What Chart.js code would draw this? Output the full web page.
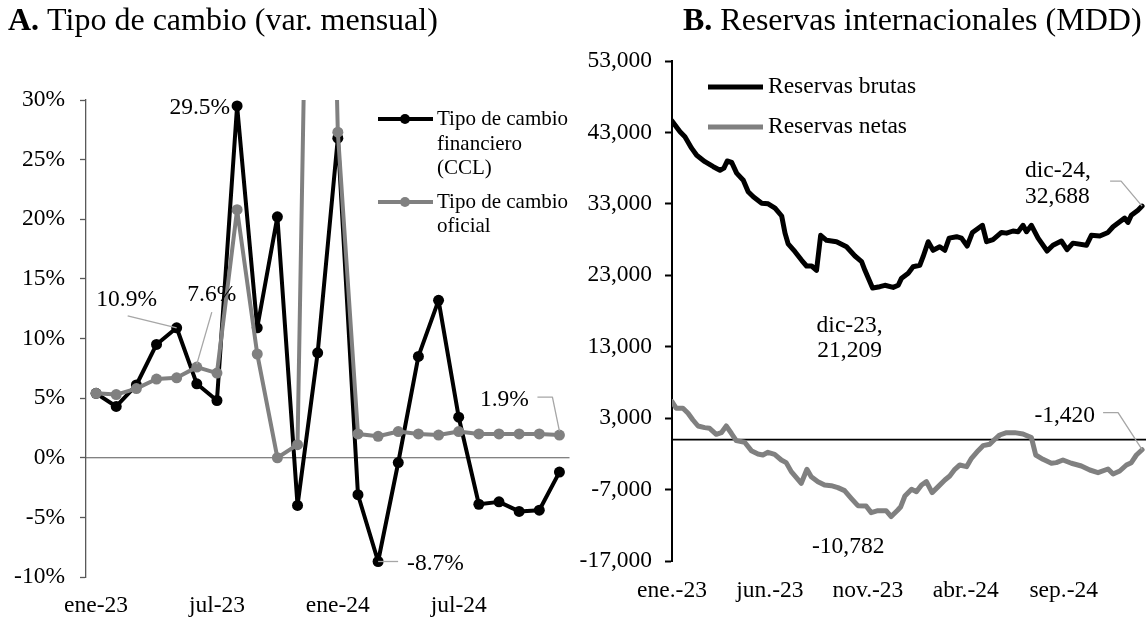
<!DOCTYPE html>
<html lang="es">
<head>
<meta charset="utf-8">
<title>Tipo de cambio y reservas</title>
<script src="https://cdn.jsdelivr.net/npm/chart.js@4.4.1/dist/chart.umd.min.js"></script>
<style>
  html,body{margin:0;padding:0;background:#fff;}
  #wrap{position:relative;width:1146px;height:618px;overflow:hidden;background:#fff;}
  canvas{position:absolute;top:0;}
  #cA{left:0;width:575px;height:618px;}
  #cB{left:575px;width:571px;height:618px;}
</style>
</head>
<body>
<div id="wrap">
  <canvas id="cA" width="575" height="618"></canvas>
  <canvas id="cB" width="571" height="618"></canvas>
</div>
<script>
// ---- datos panel A (var. mensual, %) ----
const meses = ['ene-23','feb-23','mar-23','abr-23','may-23','jun-23','jul-23','ago-23','sep-23','oct-23','nov-23','dic-23',
               'ene-24','feb-24','mar-24','abr-24','may-24','jun-24','jul-24','ago-24','sep-24','oct-24','nov-24','dic-24'];
const ccl     = [5.4, 4.3, 6.1, 9.5, 10.9, 6.2, 4.8, 29.5, 10.9, 20.2, -4.0, 8.8, 26.8, -3.1, -8.7, -0.4, 8.5, 13.2, 3.4, -3.9, -3.7, -4.5, -4.4, -1.2];
const oficial = [5.4, 5.3, 5.8, 6.6, 6.7, 7.6, 7.1, 20.8, 8.7, 0.0, 1.1, 97.0, 27.3, 2.0, 1.8, 2.2, 2.0, 1.9, 2.2, 2.0, 2.0, 2.0, 2.0, 1.9];
const ticksA  = [-10, -5, 0, 5, 10, 15, 20, 25, 30];

// ---- datos panel B (MDD); posicion en meses desde ene-23 ----
const brutasMes = [0, 0.41, 0.66, 1.0, 1.26, 1.68, 2.11, 2.45, 2.65, 2.82, 3.05, 3.30, 3.64, 3.89, 4.15, 4.58, 4.91, 5.26, 5.60, 5.77,
  5.93, 6.28, 6.62, 6.87, 7.13, 7.38, 7.59, 7.89, 8.40, 8.91, 9.34, 9.68, 9.85, 10.24, 10.61, 10.87, 11.29, 11.55, 11.72, 12.06,
  12.31, 12.65, 12.82, 13.08, 13.33, 13.67, 13.93, 14.15, 14.53, 14.78, 15.07, 15.34, 15.85, 16.06, 16.39, 16.82, 17.08, 17.41, 17.67, 17.92,
  18.10, 18.35, 18.69, 19.15, 19.45, 19.88, 20.17, 20.47, 21.16, 21.41, 21.84, 22.26, 22.52, 22.86, 23.11, 23.28, 23.45, 23.79, 24.0];
const brutas = [44600, 43100, 42400, 40800, 39800, 38900, 38200, 37700, 38000, 39000, 38800, 37300, 36300, 34700, 34000, 33100, 33000, 32400, 31300, 28900,
  27400, 26300, 25100, 24300, 24300, 23700, 28600, 27900, 27700, 27000, 25700, 24900, 23700, 21209, 21400, 21600, 21300, 21600, 22600, 23300,
  24200, 24400, 25600, 27700, 26500, 27000, 26500, 28200, 28400, 28200, 27100, 29000, 30000, 27700, 28000, 29000, 28900, 29200, 29100, 30000,
  29100, 30000, 28200, 26400, 27200, 27800, 26600, 27500, 27200, 28600, 28500, 29000, 29800, 30500, 31000, 30400, 31400, 32100, 32688];
const netasMes = [0, 0.22, 0.56, 0.82, 1.07, 1.33, 1.67, 1.92, 2.26, 2.52, 2.77, 3.03, 3.28, 3.71, 4.05, 4.39, 4.64, 4.90, 5.24, 5.58,
  5.83, 6.09, 6.34, 6.60, 6.89, 7.11, 7.45, 7.79, 8.13, 8.47, 8.81, 9.15, 9.49, 9.91, 10.17, 10.51, 10.93, 11.19, 11.53, 11.68,
  11.89, 12.23, 12.48, 12.74, 12.99, 13.28, 13.59, 13.93, 14.18, 14.44, 14.69, 15.04, 15.29, 15.63, 15.88, 16.22, 16.48, 16.73, 17.08, 17.50,
  17.92, 18.35, 18.57, 18.94, 19.37, 19.62, 19.96, 20.39, 20.90, 21.33, 21.75, 22.26, 22.52, 22.86, 23.20, 23.45, 23.71, 24.0];
const netas = [5300, 4380, 4380, 3680, 2740, 1900, 1670, 1580, 740, 970, 1900, 880, -150, -380, -1550, -2020, -2160, -1780, -2060, -2860,
  -3230, -4490, -5280, -6120, -4160, -5190, -5890, -6360, -6450, -6730, -7150, -8220, -9250, -9300, -10230, -9950, -9950, -10782, -9860, -9400,
  -7900, -6960, -7290, -6360, -5890, -7430, -6590, -5660, -5100, -4160, -3560, -3790, -2620, -1550, -850, -660, 40, 640, 970, 970,
  780, 270, -2160, -2760, -3320, -3230, -2860, -3320, -3700, -4260, -4630, -4120, -4820, -4400, -3560, -3230, -2160, -1420];
const ticksB    = [-17000, -7000, 3000, 13000, 23000, 33000, 43000, 53000];
const ticksBMes = [0, 5, 10, 15, 20];
const etiquetasB = ['ene.-23', 'jun.-23', 'nov.-23', 'abr.-24', 'sep.-24'];

const SERIF = "'Liberation Serif', 'Times New Roman', serif";
const NEGRO = '#000000', GRIS = '#808080', GUIA = '#a6a6a6';
Chart.defaults.font.family = SERIF;
Chart.defaults.font.size = 23.5;
Chart.defaults.color = NEGRO;

// helpers de dibujo
function linea(ctx, pts, color, w){
  ctx.save(); ctx.strokeStyle = color; ctx.lineWidth = w; ctx.lineJoin = 'round';
  ctx.beginPath(); pts.forEach((p,i)=> i ? ctx.lineTo(p[0],p[1]) : ctx.moveTo(p[0],p[1])); ctx.stroke(); ctx.restore();
}
function texto(ctx, s, x, y, align='left', size=23.5){
  ctx.save(); ctx.font = `${size}px ${SERIF}`; ctx.fillStyle = NEGRO; ctx.textAlign = align; ctx.textBaseline = 'middle';
  ctx.fillText(s, x, y); ctx.restore();
}
function titulo(ctx, x, y, letra, resto){
  ctx.save(); ctx.fillStyle = NEGRO; ctx.textBaseline = 'alphabetic'; ctx.textAlign = 'left';
  ctx.font = `bold 32px ${SERIF}`; ctx.fillText(letra, x, y);
  const w = ctx.measureText(letra).width;
  ctx.font = `32px ${SERIF}`; ctx.fillText(resto, x + w, y); ctx.restore();
}
function punto(ctx, x, y, r, color){
  ctx.save(); ctx.fillStyle = color; ctx.beginPath(); ctx.arc(x, y, r, 0, Math.PI*2); ctx.fill(); ctx.restore();
}
const pct = v => v.toFixed(1) + '%';
const miles = v => v.toLocaleString('en-US');

// ---------------- Panel A ----------------
const extrasA = {
  id: 'extrasA',
  beforeDatasetsDraw(chart){
    const {ctx, chartArea:a, scales:{y}} = chart;
    const y0 = y.getPixelForValue(0);
    linea(ctx, [[a.left, y0], [a.right, y0]], '#595959', 1.2);
  },
  afterDraw(chart){
    const ctx = chart.ctx;
    titulo(ctx, 8, 30, 'A.', ' Tipo de cambio (var. mensual)');
    const p = (ds, i) => chart.getDatasetMeta(ds).data[i];
    let q = p(0, 7); texto(ctx, pct(ccl[7]), q.x - 7, q.y + 2, 'right');
    q = p(0, 4); linea(ctx, [[q.x - 49, q.y - 12], [q.x, q.y]], GUIA, 1.3); texto(ctx, pct(ccl[4]), q.x - 50, q.y - 28, 'center');
    q = p(1, 5); linea(ctx, [[q.x + 15, q.y - 55], [q.x, q.y - 3]], GUIA, 1.3); texto(ctx, pct(oficial[5]), q.x + 15, q.y - 72, 'center');
    q = p(0, 14); linea(ctx, [[q.x, q.y], [q.x + 20, q.y]], GUIA, 1.3); texto(ctx, pct(ccl[14]), q.x + 29, q.y + 2, 'left');
    q = p(1, 23); linea(ctx, [[q.x - 22, q.y - 38], [q.x - 7, q.y - 38], [q.x, q.y - 4]], GUIA, 1.3);
    texto(ctx, pct(oficial[23]), q.x - 55, q.y - 35, 'center');
    // leyenda
    linea(ctx, [[378, 119], [433, 119]], NEGRO, 4); punto(ctx, 405, 119, 5, NEGRO);
    texto(ctx, 'Tipo de cambio', 437, 119, 'left', 21);
    texto(ctx, 'financiero', 437, 144, 'left', 21);
    texto(ctx, '(CCL)', 437, 168, 'left', 21);
    linea(ctx, [[378, 202], [433, 202]], GRIS, 4); punto(ctx, 405, 202, 5, GRIS);
    texto(ctx, 'Tipo de cambio', 437, 202, 'left', 21);
    texto(ctx, 'oficial', 437, 226, 'left', 21);
  }
};

new Chart(document.getElementById('cA'), {
  type: 'line',
  data: {
    labels: meses,
    datasets: [
      {label: 'Tipo de cambio financiero (CCL)', data: ccl, borderColor: NEGRO, backgroundColor: NEGRO, borderWidth: 4,
       borderJoinStyle: 'round', pointRadius: 5.5, pointHoverRadius: 5.5, pointBorderWidth: 0, order: 2,
       clip: {left: 10, right: 10, top: 0, bottom: 10}},
      {label: 'Tipo de cambio oficial', data: oficial, borderColor: GRIS, backgroundColor: GRIS, borderWidth: 4,
       borderJoinStyle: 'round', pointRadius: 5.5, pointHoverRadius: 5.5, pointBorderWidth: 0, order: 1,
       clip: {left: 10, right: 10, top: 0, bottom: 10}}
    ]
  },
  options: {
    responsive: false, animation: false, events: [],
    layout: {padding: {left: 0, right: 2, top: 100, bottom: 0}},
    plugins: {legend: {display: false}, tooltip: {enabled: false}},
    scales: {
      x: {
        type: 'category', offset: true,
        grid: {display: false, drawTicks: false}, border: {display: false},
        ticks: {autoSkip: false, maxRotation: 0, padding: 15, callback: (v, i) => i % 6 === 0 ? meses[i] : ''},
        afterFit: s => { s.height = 41; }
      },
      y: {
        min: -10, max: 30,
        afterBuildTicks: s => { s.ticks = ticksA.map(v => ({value: v})); },
        ticks: {padding: 15, callback: v => v + '%'},
        grid: {drawOnChartArea: false, drawTicks: true, tickLength: 6, tickColor: '#595959', tickWidth: 1.3},
        border: {display: true, color: '#595959', width: 1.3},
        afterFit: s => { s.width = 86; }
      }
    }
  },
  plugins: [extrasA]
});

// ---------------- Panel B ----------------
const iMinB = brutas.indexOf(Math.min(...brutas));
const iMinN = netas.indexOf(Math.min(...netas));
const extrasB = {
  id: 'extrasB',
  beforeDatasetsDraw(chart){
    const {ctx, chartArea:a, scales:{y}} = chart;
    const y0 = y.getPixelForValue(0);
    linea(ctx, [[a.left, y0], [a.right, y0]], NEGRO, 1.8);
  },
  afterDraw(chart){
    const ctx = chart.ctx;
    titulo(ctx, 108, 30, 'B.', ' Reservas internacionales (MDD)');
    const p = (ds, i) => chart.getDatasetMeta(ds).data[i];
    let q = p(0, iMinB);
    texto(ctx, 'dic-23,', q.x - 23, q.y + 38, 'center'); texto(ctx, miles(brutas[iMinB]), q.x - 23, q.y + 63, 'center');
    const nb = brutas.length - 1; q = p(0, nb);
    linea(ctx, [[q.x - 32, q.y - 25], [q.x - 21, q.y - 25], [q.x, q.y]], GUIA, 1.3);
    texto(ctx, 'dic-24,', q.x - 117, q.y - 35, 'left'); texto(ctx, miles(brutas[nb]), q.x - 117, q.y - 9, 'left');
    q = p(1, iMinN);
    texto(ctx, miles(netas[iMinN]), q.x - 43, q.y + 30, 'center');
    const nn = netas.length - 1; q = p(1, nn);
    linea(ctx, [[q.x - 39, q.y - 37], [q.x - 24, q.y - 37], [q.x, q.y]], GUIA, 1.3);
    texto(ctx, miles(netas[nn]), q.x - 47, q.y - 34, 'right');
    // leyenda
    linea(ctx, [[133, 87], [188, 87]], NEGRO, 5);
    texto(ctx, 'Reservas brutas', 193, 87, 'left');
    linea(ctx, [[133, 127], [188, 127]], GRIS, 5);
    texto(ctx, 'Reservas netas', 193, 127, 'left');
  }
};

new Chart(document.getElementById('cB'), {
  type: 'line',
  data: {
    datasets: [
      {label: 'Reservas brutas', data: brutasMes.map((m, i) => ({x: m, y: brutas[i]})), borderColor: NEGRO,
       borderWidth: 5, pointRadius: 0, borderJoinStyle: 'round', borderCapStyle: 'round'},
      {label: 'Reservas netas', data: netasMes.map((m, i) => ({x: m, y: netas[i]})), borderColor: GRIS,
       borderWidth: 5, pointRadius: 0, borderJoinStyle: 'round', borderCapStyle: 'round'}
    ]
  },
  options: {
    responsive: false, animation: false, events: [],
    layout: {padding: {left: 0, right: 0, top: 61, bottom: 0}},
    plugins: {legend: {display: false}, tooltip: {enabled: false}},
    scales: {
      x: {
        type: 'linear', min: 0, max: 24.2,
        afterBuildTicks: s => { s.ticks = ticksBMes.map(v => ({value: v})); },
        grid: {display: false, drawTicks: false}, border: {display: false},
        ticks: {maxRotation: 0, padding: 16, callback: v => etiquetasB[ticksBMes.indexOf(v)]},
        afterFit: s => { s.height = 57; }
      },
      y: {
        min: -17000, max: 53000,
        afterBuildTicks: s => { s.ticks = ticksB.map(v => ({value: v})); },
        ticks: {padding: 13, callback: v => miles(v)},
        grid: {drawOnChartArea: false, drawTicks: true, tickLength: 7, tickColor: NEGRO, tickWidth: 2},
        border: {display: true, color: NEGRO, width: 2},
        afterFit: s => { s.width = 97; }
      }
    }
  },
  plugins: [extrasB]
});
</script>
</body>
</html>
